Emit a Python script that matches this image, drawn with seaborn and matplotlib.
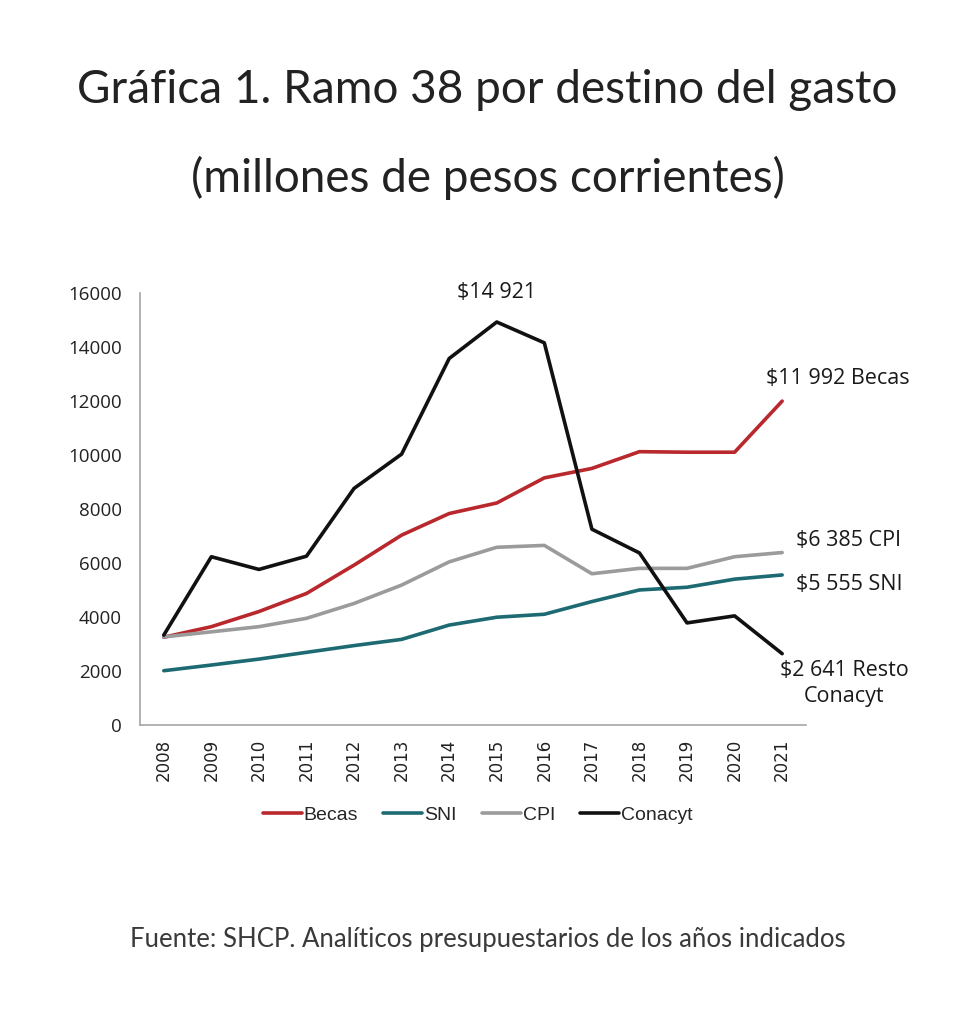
import pandas as pd
import matplotlib
matplotlib.use("Agg")
import matplotlib.pyplot as plt
import seaborn as sns

years = list(range(2008, 2022))
becas = [3250, 3640, 4200, 4870, 5920, 7030, 7830, 8220, 9150, 9500, 10120, 10100, 10100, 11992]
sni = [2010, 2220, 2440, 2690, 2940, 3170, 3700, 3990, 4100, 4570, 5000, 5100, 5400, 5555]
cpi = [3260, 3450, 3640, 3950, 4500, 5180, 6040, 6580, 6650, 5600, 5800, 5800, 6230, 6385]
conacyt = [3330, 6230, 5760, 6250, 8760, 10030, 13570, 14921, 14150, 7250, 6370, 3780, 4040, 2641]

series_names = ["Becas", "SNI", "CPI", "Conacyt"]
series_colors = ["#b8282d", "#1d6a72", "#9b9b9b", "#111111"]
y_ticks = [0, 2000, 4000, 6000, 8000, 10000, 12000, 14000, 16000]

df = pd.DataFrame({"year": years, "Becas": becas, "SNI": sni, "CPI": cpi, "Conacyt": conacyt})
long_df = df.melt(id_vars="year", var_name="serie", value_name="monto")

sns.set_style("white")
plt.rcParams["font.family"] = ["Lato", "DejaVu Sans"]

fig = plt.figure(figsize=(9.75, 10.24), dpi=100)
ax = fig.add_axes([0.1436, 0.292, 0.683, 0.422])

sns.lineplot(
    data=long_df, x="year", y="monto", hue="serie",
    hue_order=series_names, palette=series_colors,
    linewidth=2.6, ax=ax, legend=True
)

ax.set_xlim(2007.5, 2021.5)
ax.set_ylim(0, 16000)
ax.set_xticks(years)
ax.set_xticklabels([str(y) for y in years], rotation=90, fontsize=12,
                   family="DejaVu Sans", color="#222222")
ax.set_yticks(y_ticks)
ax.set_yticklabels([str(v) for v in y_ticks], fontsize=13.5, family="Open Sans",
                   color="#222222")
ax.tick_params(axis="both", length=0)
ax.tick_params(axis="y", pad=13)
ax.tick_params(axis="x", pad=10)
ax.set_xlabel("")
ax.set_ylabel("")
for side in ["top", "right"]:
    ax.spines[side].set_visible(False)
for side in ["left", "bottom"]:
    ax.spines[side].set_color("#a6a6a6")
    ax.spines[side].set_linewidth(1.2)

# etiquetas de valores
lab_font = dict(fontsize=15.5, family="Open Sans", color="#1a1a1a")
ax.annotate("$14 921", xy=(2015, conacyt[7]), xytext=(0, 30),
            textcoords="offset pixels", ha="center", va="center", **lab_font)
ax.annotate("$11 992 Becas", xy=(2021, becas[-1]), xytext=(-16, 23),
            textcoords="offset pixels", ha="left", va="center", **lab_font)
ax.annotate("$6 385 CPI", xy=(2021, cpi[-1]), xytext=(14, 12),
            textcoords="offset pixels", ha="left", va="center", **lab_font)
ax.annotate("$5 555 SNI", xy=(2021, sni[-1]), xytext=(14, -10),
            textcoords="offset pixels", ha="left", va="center", **lab_font)
ax.annotate("$2 641 Resto\nConacyt", xy=(2021, conacyt[-1]), xytext=(62, -30),
            textcoords="offset pixels", ha="center", va="center",
            multialignment="center", linespacing=1.3, **lab_font)

handles, labels = ax.get_legend_handles_labels()
ax.legend_.remove()
fig.legend(handles, labels, loc="center", bbox_to_anchor=(0.49, 0.204), ncol=4,
           frameon=False, handlelength=2.0, handletextpad=0.1, columnspacing=1.3,
           prop={"family": "Liberation Sans", "size": 14})

fig.text(0.5, 1 - 90 / 1024, "Gráfica 1. Ramo 38 por destino del gasto",
         ha="center", va="center", fontsize=33, color="#222222")
fig.text(0.5, 1 - 178 / 1024, "(millones de pesos corrientes)",
         ha="center", va="center", fontsize=33, color="#222222")
fig.text(0.5, 1 - 940 / 1024, "Fuente: SHCP. Analíticos presupuestarios de los años indicados",
         ha="center", va="center", fontsize=18.5, color="#3a3a3a")

fig.savefig("out.png", dpi=100, facecolor="white")
